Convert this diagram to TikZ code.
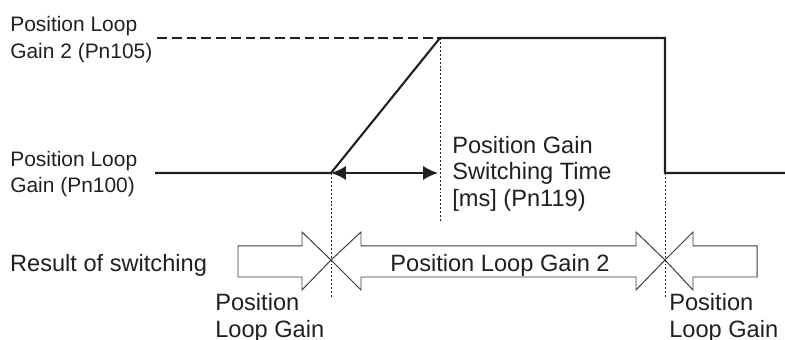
\documentclass[tikz,border=0pt]{standalone}
\usepackage{fontspec}
\setmainfont{Liberation Sans}
\usepackage{xcolor}
\usepackage{tikz}
\usetikzlibrary{arrows.meta}
\definecolor{SWInk}{HTML}{231F20}
\definecolor{SWEdge}{HTML}{3C3C3C}

\begin{document}
\begin{tikzpicture}[x=1cm,y=1cm,
  wave/.style={SWInk,line width=1.5pt},
  guide/.style={SWInk,line width=0.7pt,dash pattern=on 1.4pt off 1.4pt},
  blockarrow/.style={SWEdge,line width=0.7pt,line join=miter},
  smalllbl/.style={SWInk,anchor=base west,inner sep=0pt,align=left,font=\fontsize{14.9}{19.5}\selectfont},
  biglbl/.style={SWInk,anchor=base west,inner sep=0pt,align=left,font=\fontsize{16.8}{19.5}\selectfont}]
\path[use as bounding box] (0,0) rectangle (19.625,8.50);
% waveform points
\coordinate (lowL) at (3.875,4.175);
\coordinate (rampS) at (8.275,4.175);
\coordinate (rampE) at (11.00,7.55);
\coordinate (dashS) at (3.925,7.55);
\coordinate (highE) at (16.625,7.55);
\coordinate (fall) at (16.625,4.175);
\coordinate (lowR) at (19.625,4.175);
\coordinate (timeE) at (10.95,4.175);
\coordinate (guideA) at (8.275,1.05);
\coordinate (guideB) at (11.00,2.95);
\coordinate (guideC) at (16.625,1.05);
\draw[wave,dash pattern=on 7pt off 3.5pt] (dashS) -- (rampE);
\draw[wave,line join=miter] (lowL) -- (rampS) -- (rampE) -- (highE) -- (fall) -- (lowR);
\draw[wave,{Latex[length=10.5pt,width=10pt]}-{Latex[length=10.5pt,width=10pt]}] (rampS) -- (timeE);
\draw[guide] (rampS) -- (guideA);
\draw[guide] (rampE) -- (guideB);
\draw[guide] (fall) -- (guideC);
% result of switching
\draw[blockarrow] (5.95,2.35) -- (7.55,2.35) -- (7.55,2.70) -- (8.275,2.00) -- (7.55,1.25) -- (7.55,1.575) -- (5.95,1.575) -- cycle;
\draw[blockarrow] (8.275,2.00) -- (9.025,2.70) -- (9.025,2.35) -- (15.90,2.35) -- (15.90,2.70) -- (16.625,2.00) -- (15.90,1.25) -- (15.90,1.575) -- (9.025,1.575) -- (9.025,1.25) -- cycle;
\draw[blockarrow] (16.625,2.00) -- (17.325,2.70) -- (17.325,2.35) -- (18.925,2.35) -- (18.925,1.575) -- (17.325,1.575) -- (17.325,1.25) -- cycle;
% labels (base = last line)
\node[smalllbl,font=\fontsize{14.9}{19.9}\selectfont] (gainTwo) at (0.25,7.025) {Position Loop\\Gain 2 (Pn105)};
\node[smalllbl,font=\fontsize{14.9}{18.9}\selectfont] (gainOne) at (0.25,3.675) {Position Loop\\Gain (Pn100)};
\node[biglbl,font=\fontsize{16.8}{19.2}\selectfont] (switchTime) at (11.30,3.325) {Position Gain\\Switching Time\\{[ms]} (Pn119)};
\node[biglbl] (result) at (0.245,1.70) {Result of switching};
\node[biglbl,anchor=base] (gainMid) at (12.50,1.70) {Position Loop Gain 2};
\node[biglbl,font=\fontsize{16.8}{19.9}\selectfont] (gainLeft) at (5.375,0.05) {Position\\Loop Gain};
\node[biglbl,font=\fontsize{16.8}{19.9}\selectfont] (gainRight) at (16.725,0.05) {Position\\Loop Gain};
\end{tikzpicture}
\end{document}
